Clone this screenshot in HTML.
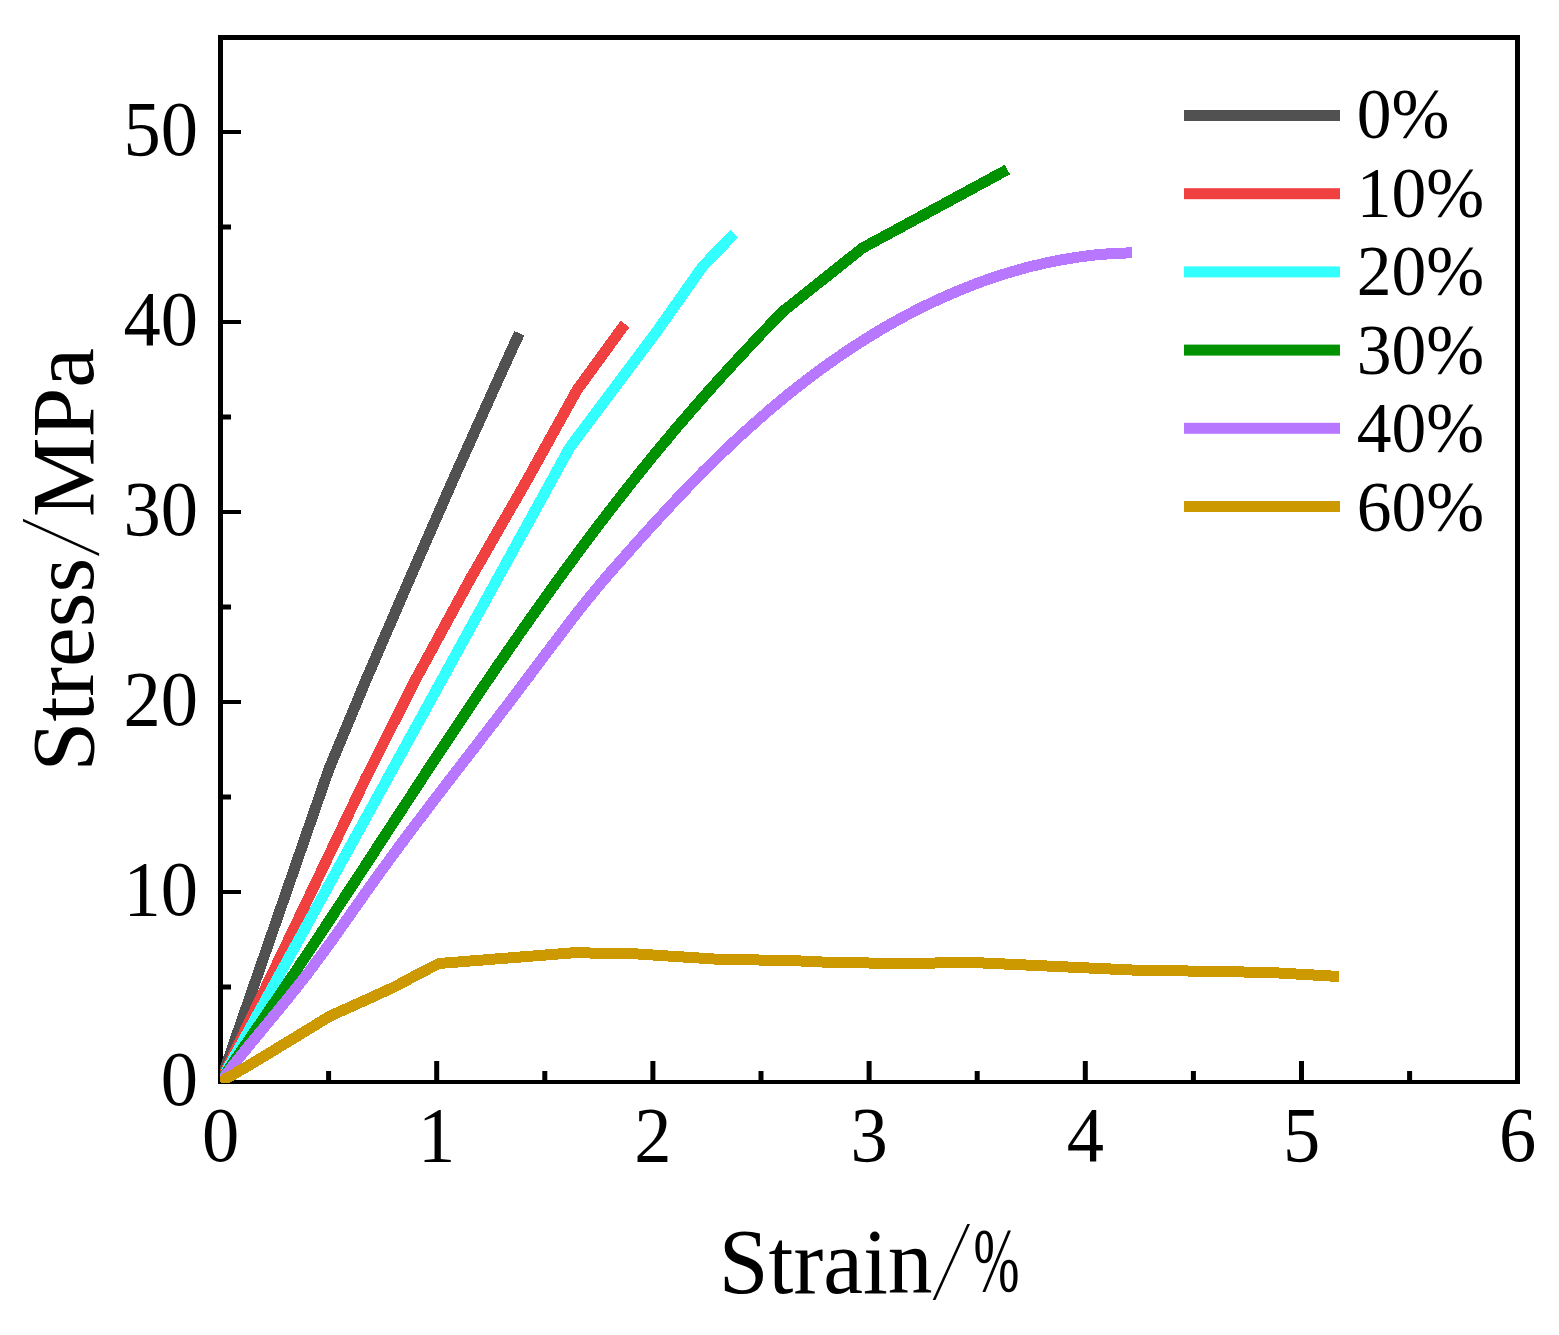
<!DOCTYPE html>
<html><head><meta charset="utf-8"><title>Stress-Strain</title>
<style>
html,body{margin:0;padding:0;background:#fff;}
svg{display:block;}
text{font-family:"Liberation Serif","Times New Roman",serif;fill:#000;}
</style></head><body>
<svg width="1559" height="1335" viewBox="0 0 1559 1335">
<rect x="0" y="0" width="1559" height="1335" fill="#fff"/>
<g fill="#000">
<rect x="218" y="35" width="1302" height="5"/>
<rect x="218" y="1080" width="1302" height="4"/>
<rect x="218" y="35" width="5" height="1049"/>
<rect x="1515" y="35" width="5" height="1049"/>
<rect x="434.2" y="1061" width="5" height="19"/>
<rect x="650.4" y="1061" width="5" height="19"/>
<rect x="866.6" y="1061" width="5" height="19"/>
<rect x="1082.8" y="1061" width="5" height="19"/>
<rect x="1299.0" y="1061" width="5" height="19"/>
<rect x="326.1" y="1071" width="5" height="9"/>
<rect x="542.3" y="1071" width="5" height="9"/>
<rect x="758.5" y="1071" width="5" height="9"/>
<rect x="974.7" y="1071" width="5" height="9"/>
<rect x="1190.9" y="1071" width="5" height="9"/>
<rect x="1407.1" y="1071" width="5" height="9"/>
<rect x="223" y="890.0" width="18" height="4"/>
<rect x="223" y="700.0" width="18" height="4"/>
<rect x="223" y="510.0" width="18" height="4"/>
<rect x="223" y="320.0" width="18" height="4"/>
<rect x="223" y="130.0" width="18" height="4"/>
<rect x="223" y="984.5" width="8" height="5"/>
<rect x="223" y="794.5" width="8" height="5"/>
<rect x="223" y="604.5" width="8" height="5"/>
<rect x="223" y="414.5" width="8" height="5"/>
<rect x="223" y="224.5" width="8" height="5"/>
</g>
<text transform="translate(197.9,1104.6) scale(1,1.040)" font-size="74.5" text-anchor="end">0</text>
<text transform="translate(197.9,914.6) scale(1,1.040)" font-size="74.5" text-anchor="end">10</text>
<text transform="translate(197.9,724.6) scale(1,1.040)" font-size="74.5" text-anchor="end">20</text>
<text transform="translate(197.9,534.6) scale(1,1.040)" font-size="74.5" text-anchor="end">30</text>
<text transform="translate(197.9,344.6) scale(1,1.040)" font-size="74.5" text-anchor="end">40</text>
<text transform="translate(197.9,154.6) scale(1,1.040)" font-size="74.5" text-anchor="end">50</text>
<text transform="translate(220.5,1161.1) scale(1,1.040)" font-size="74.5" text-anchor="middle">0</text>
<text transform="translate(436.7,1161.1) scale(1,1.040)" font-size="74.5" text-anchor="middle">1</text>
<text transform="translate(652.9,1161.1) scale(1,1.040)" font-size="74.5" text-anchor="middle">2</text>
<text transform="translate(869.1,1161.1) scale(1,1.040)" font-size="74.5" text-anchor="middle">3</text>
<text transform="translate(1085.3,1161.1) scale(1,1.040)" font-size="74.5" text-anchor="middle">4</text>
<text transform="translate(1301.5,1161.1) scale(1,1.040)" font-size="74.5" text-anchor="middle">5</text>
<text transform="translate(1517.7,1161.1) scale(1,1.040)" font-size="74.5" text-anchor="middle">6</text>
<text transform="translate(718.8,1293.0) scale(1,1.040)" font-size="89.5">Strain</text>
<text transform="translate(932.9,1299) skewX(-15.8) scale(0.5,1)" font-size="113.8">/</text>
<text transform="translate(973.6,1291) scale(0.69,1.13)" font-size="80">%</text>
<text transform="translate(93,771.4) rotate(-90)" font-size="89.5">Stress</text>
<text transform="translate(98.3,555.7) rotate(-90) skewX(-15.8) scale(0.5,1)" font-size="113.8">/</text>
<text transform="translate(93,517.0) rotate(-90)" font-size="89.5">MPa</text>
<defs><clipPath id="pc"><rect x="220" y="37" width="1298" height="1046"/></clipPath></defs>
<g clip-path="url(#pc)" fill="none" stroke-width="11.0" stroke-linejoin="round" stroke-linecap="butt" shape-rendering="crispEdges">
<polyline stroke="#515151" points="220.5,1082.0 328.6,770.0 366.0,680.0 409.2,580.0 453.0,480.0 498.0,380.0 519.3,333.3"/>
<polyline stroke="#F14040" points="220.5,1082.0 364.9,780.0 415.3,680.0 469.7,580.0 527.1,480.0 577.0,390.0 625.0,324.0"/>
<polyline stroke="#33FFFF" points="220.5,1082.0 569.5,448.0 655.0,334.0 703.0,266.0 734.3,233.6"/>
<polyline stroke="#009200" points="220.5,1082.0 224.0,1076.1 227.9,1070.4 231.8,1064.8 235.7,1059.1 239.6,1053.4 243.5,1047.8 247.4,1042.1 251.3,1036.4 255.2,1030.7 259.1,1025.1 263.0,1019.4 266.9,1013.7 270.7,1008.0 274.6,1002.4 278.5,996.7 282.3,991.0 286.2,985.3 290.0,979.6 293.9,973.9 297.7,968.2 301.5,962.4 305.4,956.7 309.2,951.0 313.0,945.3 316.8,939.5 320.6,933.8 324.4,928.1 328.2,922.3 331.9,916.6 335.7,910.8 339.5,905.1 343.3,899.3 347.0,893.6 350.8,887.8 354.6,882.1 358.3,876.3 362.1,870.6 365.9,864.8 369.6,859.0 373.4,853.3 377.1,847.5 380.9,841.7 384.6,836.0 388.4,830.2 392.2,824.5 395.9,818.7 399.7,812.9 403.4,807.2 407.2,801.4 411.0,795.7 414.7,789.9 418.5,784.2 422.3,778.4 426.0,772.7 429.8,766.9 433.6,761.2 437.4,755.4 441.2,749.7 445.0,744.0 448.8,738.2 452.6,732.5 456.4,726.8 460.2,721.1 464.0,715.4 467.9,709.6 471.7,703.9 475.5,698.2 479.4,692.5 483.2,686.8 487.1,681.2 491.0,675.5 494.9,669.8 498.7,664.1 502.6,658.5 506.5,652.8 510.4,647.1 514.4,641.5 518.3,635.8 522.2,630.2 526.2,624.6 530.1,618.9 534.1,613.3 538.1,607.7 542.1,602.1 546.1,596.5 550.1,590.9 554.1,585.3 558.1,579.7 562.2,574.2 566.2,568.6 570.3,563.1 574.4,557.5 578.5,552.0 582.6,546.5 586.7,541.0 590.8,535.5 595.0,530.0 599.1,524.5 603.3,519.0 607.5,513.6 611.7,508.1 615.9,502.7 620.1,497.3 624.4,491.9 628.6,486.5 632.9,481.1 637.2,475.7 641.5,470.3 645.8,465.0 650.1,459.6 654.5,454.3 658.9,449.0 663.3,443.7 667.7,438.5 672.1,433.2 676.5,427.9 681.0,422.7 685.5,417.5 690.0,412.3 694.5,407.1 699.0,401.9 703.5,396.8 708.1,391.6 712.7,386.5 717.3,381.4 721.9,376.3 726.5,371.2 731.2,366.1 735.8,361.1 740.5,356.0 745.2,351.0 749.9,346.0 754.6,341.0 759.3,336.0 764.1,331.0 768.8,326.0 773.6,321.1 778.4,316.1 783.2,311.2 862.5,248.0 1007.4,169.6"/>
<polyline stroke="#B877FF" points="220.5,1082.0 223.7,1077.7 226.9,1073.5 230.2,1069.3 233.4,1065.1 236.7,1060.9 240.1,1056.7 243.4,1052.6 246.8,1048.5 250.1,1044.3 253.5,1040.2 256.9,1036.1 260.3,1032.0 263.7,1027.9 267.1,1023.8 270.5,1019.7 273.9,1015.6 277.3,1011.5 280.6,1007.4 284.0,1003.3 287.4,999.1 290.7,995.0 294.0,990.8 297.4,986.7 300.6,982.5 303.9,978.3 307.2,974.1 310.4,969.8 313.6,965.6 316.7,961.3 319.9,957.0 323.1,952.7 326.2,948.4 329.3,944.1 332.4,939.8 335.5,935.5 338.6,931.1 341.7,926.8 344.7,922.4 347.8,918.1 350.9,913.7 353.9,909.4 357.0,905.0 360.1,900.7 363.1,896.3 366.2,892.0 369.3,887.6 372.4,883.3 375.5,878.9 378.6,874.6 381.7,870.3 384.8,866.0 388.0,861.7 391.1,857.4 394.3,853.1 397.4,848.8 400.6,844.5 403.8,840.3 406.9,836.0 410.1,831.7 413.3,827.5 416.5,823.2 419.8,819.0 423.0,814.7 426.2,810.5 429.4,806.3 432.6,802.0 435.9,797.8 439.1,793.6 442.4,789.3 445.6,785.1 448.8,780.9 452.1,776.7 455.3,772.5 458.6,768.3 461.9,764.0 465.1,759.8 468.4,755.6 471.6,751.4 474.9,747.2 478.1,743.0 481.4,738.7 484.6,734.5 487.9,730.3 491.1,726.1 494.4,721.9 497.6,717.6 500.9,713.4 504.1,709.2 507.3,705.0 510.6,700.7 513.8,696.5 517.0,692.3 520.2,688.0 523.4,683.8 526.6,679.5 529.8,675.3 533.0,671.0 536.2,666.7 539.4,662.5 542.6,658.2 545.8,653.9 549.0,649.7 552.2,645.4 555.4,641.2 558.6,636.9 561.8,632.7 565.0,628.5 568.2,624.2 571.5,620.0 574.7,615.8 578.0,611.6 581.3,607.4 584.6,603.3 588.0,599.1 591.3,595.0 594.7,590.9 598.1,586.8 601.5,582.7 605.0,578.7 608.4,574.6 611.9,570.6 615.5,566.6 619.0,562.6 622.5,558.6 626.0,554.7 629.6,550.7 633.1,546.7 636.7,542.8 640.2,538.8 643.8,534.8 647.3,530.9 650.9,526.9 654.5,523.0 658.1,519.1 661.7,515.2 665.3,511.3 668.9,507.4 672.5,503.5 676.2,499.6 679.8,495.7 683.5,491.9 687.2,488.0 690.9,484.2 694.6,480.4 698.3,476.6 702.0,472.8 705.8,469.0 709.6,465.3 713.4,461.5 717.2,457.8 721.0,454.1 724.9,450.4 728.7,446.7 732.6,443.0 736.5,439.4 740.4,435.8 744.4,432.2 748.3,428.6 752.3,425.0 756.3,421.5 760.3,418.0 764.3,414.5 768.3,411.0 772.4,407.5 776.5,404.1 780.6,400.7 784.7,397.3 788.8,393.9 793.0,390.6 797.2,387.3 801.4,384.0 805.6,380.8 809.8,377.5 814.1,374.3 818.3,371.2 822.6,368.0 826.9,364.9 831.3,361.8 835.6,358.8 840.0,355.8 844.4,352.8 848.8,349.8 853.2,346.9 857.7,344.0 862.2,341.1 866.7,338.3 871.2,335.5 875.7,332.8 880.3,330.0 884.8,327.3 889.4,324.7 894.1,322.1 898.7,319.5 903.4,317.0 908.1,314.5 912.8,312.0 917.5,309.6 922.3,307.2 927.0,304.9 931.8,302.6 936.7,300.3 941.5,298.1 946.4,295.9 951.3,293.8 956.2,291.7 961.1,289.6 966.1,287.6 971.0,285.7 976.0,283.8 981.0,281.9 986.1,280.1 991.1,278.4 996.2,276.7 1001.2,275.0 1006.3,273.4 1011.4,271.9 1016.6,270.4 1021.7,268.9 1026.9,267.5 1032.0,266.2 1037.2,265.0 1042.4,263.7 1047.6,262.6 1052.8,261.5 1058.0,260.5 1063.3,259.5 1068.5,258.6 1073.8,257.8 1079.0,257.0 1084.3,256.3 1089.6,255.6 1094.8,255.0 1100.1,254.5 1105.4,254.1 1110.7,253.7 1116.0,253.4 1121.3,253.2 1126.7,253.0 1132.0,252.9"/>
<polyline stroke="#CC9900" points="220.5,1082.0 260.0,1058.8 330.0,1016.1 370.0,998.1 395.0,986.6 420.0,973.2 439.0,963.5 573.0,952.8 630.0,953.5 720.0,959.4 790.0,960.5 830.0,962.4 907.0,963.6 968.5,962.3 1137.8,970.3 1230.0,971.6 1279.0,973.0 1339.0,976.5"/>
</g>
<rect x="1184" y="110.0" width="156" height="11.0" fill="#515151"/>
<text transform="translate(1356.7,138.1) scale(1,1.040)" font-size="69.5">0%</text>
<rect x="1184" y="188.2" width="156" height="11.0" fill="#F14040"/>
<text transform="translate(1356.7,216.6) scale(1,1.040)" font-size="69.5">10%</text>
<rect x="1184" y="266.4" width="156" height="11.0" fill="#33FFFF"/>
<text transform="translate(1356.7,295.1) scale(1,1.040)" font-size="69.5">20%</text>
<rect x="1184" y="344.6" width="156" height="11.0" fill="#009200"/>
<text transform="translate(1356.7,373.5) scale(1,1.040)" font-size="69.5">30%</text>
<rect x="1184" y="422.8" width="156" height="11.0" fill="#B877FF"/>
<text transform="translate(1356.7,452.0) scale(1,1.040)" font-size="69.5">40%</text>
<rect x="1184" y="501.0" width="156" height="11.0" fill="#CC9900"/>
<text transform="translate(1356.7,530.5) scale(1,1.040)" font-size="69.5">60%</text>
</svg>
</body></html>
